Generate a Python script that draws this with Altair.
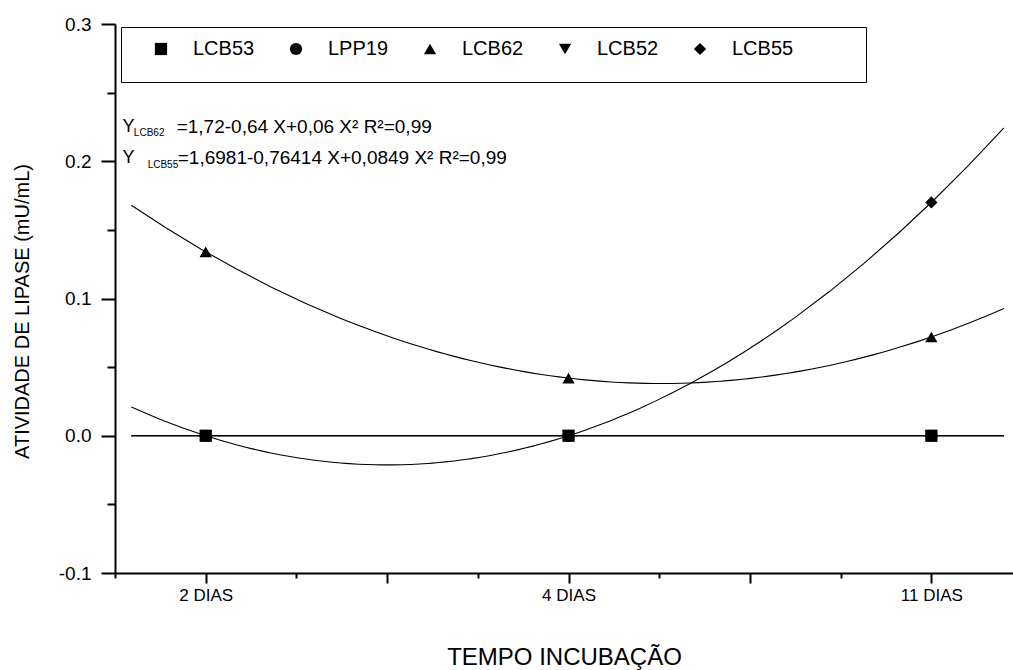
import altair as alt
import pandas as pd

# ---- data ----
series_names = ["LCB53", "LPP19", "LCB62", "LCB52", "LCB55"]
series_shapes = ["square", "circle", "triangle-up", "triangle-down", "diamond"]
day_positions = [1, 2, 3]
day_labels = ["2 DIAS", "4 DIAS", "11 DIAS"]
lcb53 = [0.0, 0.0, 0.0]
lpp19 = [0.0, 0.0, 0.0]
lcb62 = [0.134, 0.042, 0.072]
lcb52 = [0.0, 0.0, 0.0]
lcb55 = [0.0, 0.0, 0.170]

y_major_ticks = [-0.1, 0.0, 0.1, 0.2, 0.3]
y_minor_ticks = [-0.05, 0.05, 0.15, 0.25]
x_major_ticks = [1, 1.5, 2, 2.5, 3]
x_minor_ticks = [0.75, 1.25, 1.75, 2.25, 2.75]

# equation annotation (text, x, y in data units)
eq_main_text = ["=1,72-0,64 X+0,06 X\u00b2  R\u00b2=0,99",
                "=1,6981-0,76414 X+0,0849 X\u00b2 R\u00b2=0,99"]
eq_sub_text = ["LCB62", "LCB55"]
eq_y_x = [0.771, 0.771]
eq_main_x = [0.920, 0.923]
eq_sub_x = [0.802, 0.840]
eq_line_y = [0.2250, 0.2024]
eq_sub_y = [0.2203, 0.1970]

FONT = "Liberation Sans"

values = {"LCB53": lcb53, "LPP19": lpp19, "LCB62": lcb62, "LCB52": lcb52, "LCB55": lcb55}
rows = []
for s in series_names:
    for xv, yv in zip(day_positions, values[s]):
        rows.append({"series": s, "x": xv, "y": yv})
df = pd.DataFrame(rows)

eq_df = pd.DataFrame({
    "main": eq_main_text, "sub": eq_sub_text, "yx": eq_y_x, "mx": eq_main_x,
    "sx": eq_sub_x, "ly": eq_line_y, "sy": eq_sub_y,
})

x_scale = alt.Scale(domain=[0.75, 3.225], nice=False, zero=False)
y_scale = alt.Scale(domain=[-0.1, 0.3], nice=False, zero=False)

label_expr = " : ".join(
    f"datum.value == {p} ? '{l}'" for p, l in zip(day_positions, day_labels)
) + " : ''"
y_label_expr = "datum.value < 0 ? '-' + format(-datum.value, '.1f') : format(datum.value, '.1f')"

base = alt.Chart(df)

lines = base.transform_regression(
    "x", "y", groupby=["series"], method="poly", order=2, extent=[0.795, 3.2]
).mark_line(color="black", strokeWidth=1.1).encode(
    x=alt.X("x:Q", scale=x_scale,
            axis=alt.Axis(orient="bottom", values=x_minor_ticks, labels=False, title=None,
                          tickSize=5, tickWidth=2, domain=False, grid=False, tickColor="black")),
    y=alt.Y("y:Q", scale=y_scale,
            axis=alt.Axis(orient="left", values=y_minor_ticks, labels=False, title=None,
                          tickSize=8, tickWidth=2, domain=False, grid=False, tickColor="black")),
    detail="series:N",
)

points = base.mark_point(filled=True, fill="black", stroke="black", strokeWidth=0, opacity=1, size=150).encode(
    x=alt.X("x:Q", scale=x_scale,
            axis=alt.Axis(orient="bottom", values=x_major_ticks, labelExpr=label_expr,
                          title="TEMPO INCUBAÇÃO", titleFont=FONT, titleFontSize=24,
                          titleFontWeight="normal", titleColor="black", titleBaseline="middle",
                          titleY=84, tickSize=10, tickWidth=2, domainWidth=2, domainColor="black",
                          tickColor="black", labelFont=FONT, labelFontSize=17, labelColor="black",
                          labelPadding=4, grid=False, labelOverlap=False)),
    y=alt.Y("y:Q", scale=y_scale,
            axis=alt.Axis(orient="left", values=y_major_ticks, labelExpr=y_label_expr,
                          title="ATIVIDADE DE LIPASE (mU/mL)", titleFont=FONT, titleFontSize=20,
                          titleFontWeight="normal", titleColor="black", titleAngle=270,
                          titleBaseline="middle", titleX=-93, titleY=287,
                          tickSize=14, tickWidth=2, domainWidth=2, domainColor="black",
                          tickColor="black", labelFont=FONT, labelFontSize=19, labelColor="black",
                          labelPadding=10, grid=False)),
    shape=alt.Shape("series:N", scale=alt.Scale(domain=series_names, range=series_shapes),
                    legend=alt.Legend(orient="none", legendX=6, legendY=3, direction="horizontal",
                                      title="\u00a0", titleOrient="right", titleFontSize=22,
                                      titleBaseline="top", titlePadding=61,
                                      labelFont=FONT, labelFontSize=20,
                                      labelColor="black", symbolSize=150, symbolFillColor="black",
                                      symbolStrokeColor="black", symbolStrokeWidth=0,
                                      strokeColor="black", fillColor="white", padding=12,
                                      symbolOffset=18, labelOffset=22, columnPadding=13)),
)

eq_y = alt.Chart(eq_df).mark_text(align="left", baseline="middle", font=FONT, fontSize=18,
                                  color="black").encode(
    x=alt.X("yx:Q", scale=x_scale, axis=None), y=alt.Y("ly:Q", scale=y_scale, axis=None),
    text=alt.value("Y"))
eq_main = alt.Chart(eq_df).mark_text(align="left", baseline="middle", font=FONT, fontSize=19,
                                     color="black").encode(
    x=alt.X("mx:Q", scale=x_scale, axis=None), y=alt.Y("ly:Q", scale=y_scale, axis=None),
    text="main:N")
eq_sub = alt.Chart(eq_df).mark_text(align="left", baseline="middle", font=FONT, fontSize=10,
                                    color="black").encode(
    x=alt.X("sx:Q", scale=x_scale, axis=None), y=alt.Y("sy:Q", scale=y_scale, axis=None),
    text="sub:N")

chart = alt.layer(lines, points, eq_y, eq_main, eq_sub).resolve_axis(
    x="independent", y="independent"
).properties(
    width=898, height=549,
    autosize=alt.AutoSizeParams(type="none"),
    padding={"left": 115, "top": 24, "right": 0, "bottom": 97},
    background="white",
).configure_view(stroke=None)

chart.save("out.html", embed_options={"renderer": "svg", "actions": False})
